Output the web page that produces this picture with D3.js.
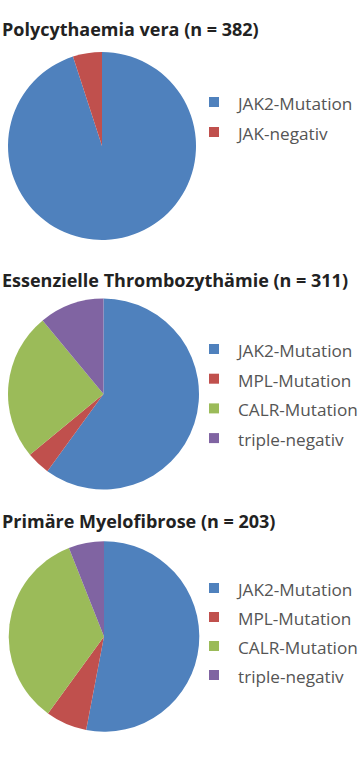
<!DOCTYPE html>
<html>
<head>
<meta charset="utf-8">
<script src="https://cdn.jsdelivr.net/npm/d3@7"></script>
<style>
  html, body { margin: 0; padding: 0; background: #fff; }
  svg { display: block; }
</style>
</head>
<body>
<svg id="chart" width="360" height="759"></svg>
<script>
// ---- data ----
const titles = [
  "Polycythaemia vera (n = 382)",
  "Essenzielle Thrombozythämie (n = 311)",
  "Primäre Myelofibrose (n = 203)"
];
const pvLabels = ["JAK2-Mutation", "JAK-negativ"];
const pvValues = [95, 5];
const etLabels = ["JAK2-Mutation", "MPL-Mutation", "CALR-Mutation", "triple-negativ"];
const etValues = [60, 4, 25, 11];
const pmfLabels = ["JAK2-Mutation", "MPL-Mutation", "CALR-Mutation", "triple-negativ"];
const pmfValues = [53, 7, 34, 6];

// ---- styling / layout ----
const colorsPV = ["#4F81BD", "#C0504D"];
const colorsMulti = ["#4F81BD", "#C0504D", "#9BBB59", "#8064A2"];

const panels = [
  { title: titles[0], labels: pvLabels, values: pvValues, colors: colorsPV,
    titleY: 36, cx: 102, cy: 146, r: 94, legendY: 97, step: 30 },
  { title: titles[1], labels: etLabels, values: etValues, colors: colorsMulti,
    titleY: 287, cx: 103.5, cy: 394, r: 95.5, legendY: 344, step: 29.7 },
  { title: titles[2], labels: pmfLabels, values: pmfValues, colors: colorsMulti,
    titleY: 528, cx: 104, cy: 636.5, r: 95.3, legendY: 583, step: 29 }
];

const svg = d3.select("#chart");
const pie = d3.pie().sort(null).value(d => d);

panels.forEach(p => {
  const g = svg.append("g");
  g.append("text")
    .attr("x", 2)
    .attr("y", p.titleY)
    .attr("font-family", "'Open Sans', sans-serif")
    .attr("font-weight", 700)
    .attr("font-size", 18)
    .attr("fill", "#222")
    .text(p.title);

  const arc = d3.arc().innerRadius(0).outerRadius(p.r);
  const color = d3.scaleOrdinal().domain(p.labels).range(p.colors);
  const pg = g.append("g").attr("transform", `translate(${p.cx},${p.cy})`);
  pg.selectAll("path")
    .data(pie(p.values))
    .join("path")
    .attr("d", arc)
    .attr("fill", (d, i) => color(p.labels[i]));

  const y = d3.scaleLinear().domain([0, 1]).range([p.legendY, p.legendY + p.step]);
  const lg = g.append("g");
  const items = lg.selectAll("g")
    .data(p.labels)
    .join("g")
    .attr("transform", (d, i) => `translate(209,${y(i)})`);
  items.append("rect")
    .attr("width", 10).attr("height", 10)
    .attr("fill", d => color(d));
  items.append("text")
    .attr("x", 29)
    .attr("y", 13)
    .attr("font-family", "'Open Sans', sans-serif")
    .attr("font-weight", 400)
    .attr("font-size", 17.2)
    .attr("fill", "#555")
    .text(d => d);
});
</script>
</body>
</html>
